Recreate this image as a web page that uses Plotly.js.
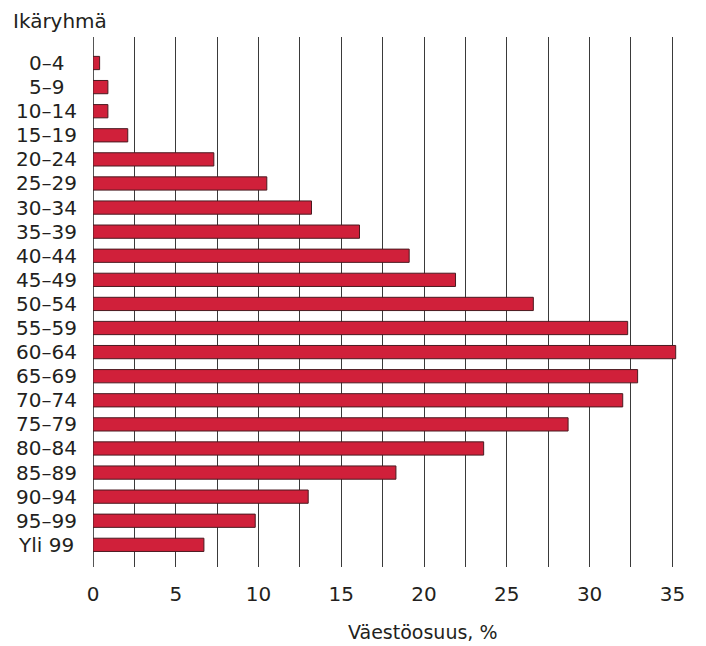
<!DOCTYPE html>
<html><head><meta charset="utf-8">
<script src="https://cdn.plot.ly/plotly-3.0.1.min.js"></script>
<style>html,body{margin:0;padding:0;background:#fff}</style>
</head><body>
<div id="chart" style="width:706px;height:646px"></div>
<script>
const ageGroups = ["0–4","5–9","10–14","15–19","20–24","25–29","30–34","35–39","40–44","45–49","50–54","55–59","60–64","65–69","70–74","75–79","80–84","85–89","90–94","95–99","Yli 99"];
const shares = [0.4,0.9,0.9,2.1,7.3,10.5,13.2,16.1,19.1,21.9,26.6,32.3,35.2,32.9,32.0,28.7,23.6,18.3,13.0,9.8,6.7];
const xTicks = [0,5,10,15,20,25,30,35];
const yTitle = "Ikäryhmä";
const xTitle = "Väestöosuus, %";

const FONT = "'DejaVu Sans', sans-serif";
const TXT = "#231f20";

const trace = {
  type: "bar", orientation: "h",
  x: shares, y: ageGroups,
  width: 0.55,
  marker: {color: "#d0203a", line: {color: "#4a1a20", width: 1}},
  hoverinfo: "none"
};

const annotations = ageGroups.map(g => ({
  xref: "paper", yref: "y", x: -0.0794, y: g, text: g,
  showarrow: false, xanchor: "center", yanchor: "middle",
  font: {family: FONT, size: 20, color: TXT}
}));
annotations.push({
  xref: "paper", yref: "paper", x: 0.562, y: -0.123, text: xTitle,
  showarrow: false, xanchor: "center", yanchor: "middle",
  font: {family: FONT, size: 19, color: TXT}
});

const layout = {
  width: 706, height: 646,
  margin: {l: 93, r: 27, t: 37, b: 79},
  paper_bgcolor: "#fff", plot_bgcolor: "#fff",
  showlegend: false,
  title: {text: yTitle, xref: "container", yref: "container", x: 13/706, xanchor: "left", y: 1 - 21/646, yanchor: "middle",
          font: {family: FONT, size: 20, color: TXT}},
  xaxis: {
    range: [0, 35.4], tickvals: xTicks, ticktext: xTicks.map(String),
    showgrid: true, gridcolor: "#3a3a3a", gridwidth: 1,
    minor: {dtick: 2.5, tick0: 0, showgrid: true, gridcolor: "#3a3a3a", gridwidth: 1},
    zeroline: true, zerolinecolor: "#555", zerolinewidth: 1,
    showline: false, ticks: "", ticklabelstandoff: 13,
    tickfont: {family: FONT, size: 20, color: TXT}, fixedrange: true
  },
  yaxis: {
    type: "category", range: [20.92, -1.08], autorange: false,
    showticklabels: false, showgrid: false, zeroline: false, showline: false, ticks: "",
    fixedrange: true
  },
  annotations: annotations
};

Plotly.newPlot("chart", [trace], layout, {displayModeBar: false, staticPlot: true});
</script>
</body></html>
